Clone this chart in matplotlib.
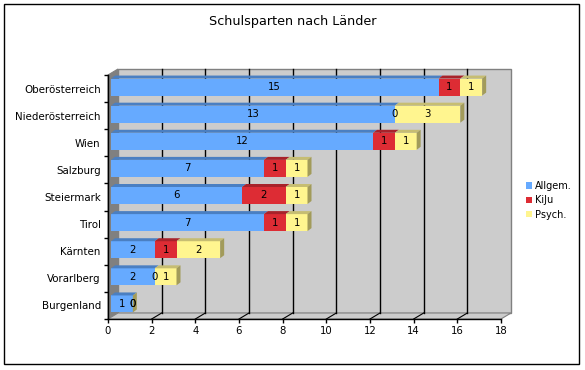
import matplotlib
matplotlib.use('Agg')
import matplotlib.pyplot as plt
from matplotlib.patches import Polygon, Rectangle, Patch
import numpy as np

categories = ['Oberösterreich', 'Niederösterreich', 'Wien', 'Salzburg', 'Steiermark',
              'Tirol', 'Kärnten', 'Vorarlberg', 'Burgenland']
allgem = [15, 13, 12, 7, 6, 7, 2, 2, 1]
kiju = [1, 0, 1, 1, 2, 1, 1, 0, 0]
psych = [1, 3, 1, 1, 1, 1, 2, 1, 0]
series_names = ['Allgem.', 'KiJu', 'Psych.']
x_ticks = list(range(0, 19, 2))
title = 'Schulsparten nach Länder'

front_cols = ['#66aaff', '#dd2c34', '#fff58f']
top_cols = ['#4a7fc2', '#a8222a', '#c6bd72']
side_cols = ['#3b68a6', '#8a1c22', '#a29b5a']

W, H = 585, 370
fig = plt.figure(figsize=(W / 100, H / 100), dpi=100)
fig.patch.set_facecolor('white')
L, R, T, B = 108, 501, 75, 319
ax = fig.add_axes([L / W, 1 - B / H, (R - L) / W, (B - T) / H])
ax.set_xlim(0, 18)
ax.set_ylim(0, 9)
ax.patch.set_visible(False)
px = 18 / (R - L)
py = 9 / (B - T)

# 3D walls
DX, DY = 10 * px, 6 * py
wall_col = '#cccccc'
edge_col = '#808080'
ax.add_patch(Rectangle((DX, DY), 18, 9, facecolor=wall_col, edgecolor=edge_col,
                       lw=1, zorder=0.5, clip_on=False))
ax.add_patch(Polygon([(0, 0), (DX, DY), (DX, 9 + DY), (0, 9)], closed=True,
                     facecolor='#808080', edgecolor='#808080', lw=0.8, zorder=0.6, clip_on=False))
ax.add_patch(Polygon([(0, 0), (18, 0), (18 + DX, DY), (DX, DY)], closed=True,
                     facecolor=wall_col, edgecolor=edge_col, lw=0.8, zorder=0.6, clip_on=False))
for v in x_ticks[1:-1]:
    ax.plot([v + DX, v + DX], [DY, 9 + DY], color='black', lw=1, zorder=0.8, clip_on=False)
    ax.plot([v, v + DX], [0, DY], color='black', lw=0.8, zorder=0.8, clip_on=False)

# bars
BX0, BY0 = 3 * px, 1.5 * py
BDX, BDY = 4 * px, 3 * py
bh = 17 * py
series = [allgem, kiju, psych]
n = len(categories)
for i, cat in enumerate(categories):
    yc = (n - 1 - i) + 0.5 + BY0
    y0, y1 = yc - bh / 2, yc + bh / 2
    left = 0.0
    for s, vals in enumerate(series):
        v = vals[i]
        x0 = left + BX0
        x1 = left + v + BX0
        ax.add_patch(Rectangle((x0, y0), v, bh, facecolor=front_cols[s], edgecolor='none',
                               lw=0, zorder=2, clip_on=False))
        ax.add_patch(Polygon([(x0, y1), (x1, y1), (x1 + BDX, y1 + BDY), (x0 + BDX, y1 + BDY)],
                             closed=True, facecolor=top_cols[s], edgecolor='none', lw=0,
                             zorder=2, clip_on=False))
        if s == len(series) - 1:
            ax.add_patch(Polygon([(x1, y0), (x1 + BDX, y0 + BDY), (x1 + BDX, y1 + BDY), (x1, y1)],
                                 closed=True, facecolor=side_cols[s], edgecolor='none', lw=0,
                                 zorder=2, clip_on=False))
        ax.text(left + v / 2 + BX0, yc, str(v), ha='center', va='center', fontsize=7.3,
                color='black', zorder=3)
        left += v

# axes
for sp in ['top', 'right']:
    ax.spines[sp].set_visible(False)
for sp in ['left', 'bottom']:
    ax.spines[sp].set_color('black')
    ax.spines[sp].set_linewidth(1)
    ax.spines[sp].set_zorder(2.5)
ax.set_xticks(x_ticks)
ax.set_xticklabels([str(t) for t in x_ticks], fontsize=7.3)
ax.tick_params(axis='x', length=3, width=1, color='black', pad=2.2)
ax.set_yticks(np.arange(0, n + 1))
ax.set_yticklabels([''] * (n + 1))
ax.tick_params(axis='y', which='major', length=3, width=1, color='black')
ax.set_yticks(np.arange(n) + 0.5, minor=True)
ax.set_yticklabels(categories[::-1], minor=True, fontsize=7.4)
ax.tick_params(axis='y', which='minor', length=0, pad=5.2)

# title
fig.text(293 / W, 1 - 21 / H, title, ha='center', va='center', fontsize=9.2)

# legend
handles = [Patch(facecolor=c, edgecolor='none') for c in front_cols]
fig.legend(handles, series_names, loc='upper left', bbox_to_anchor=(526 / W, 1 - 181 / H),
           frameon=False, fontsize=7, handlelength=0.6, handleheight=0.6,
           handletextpad=0.3, labelspacing=0.45, borderpad=0, borderaxespad=0)

# outer border
fig.add_artist(Rectangle((4 / W, 1 - 364 / H), 575 / W, 360 / H, transform=fig.transFigure,
                         facecolor='none', edgecolor='black', lw=1))

fig.savefig('out.png', dpi=100)
